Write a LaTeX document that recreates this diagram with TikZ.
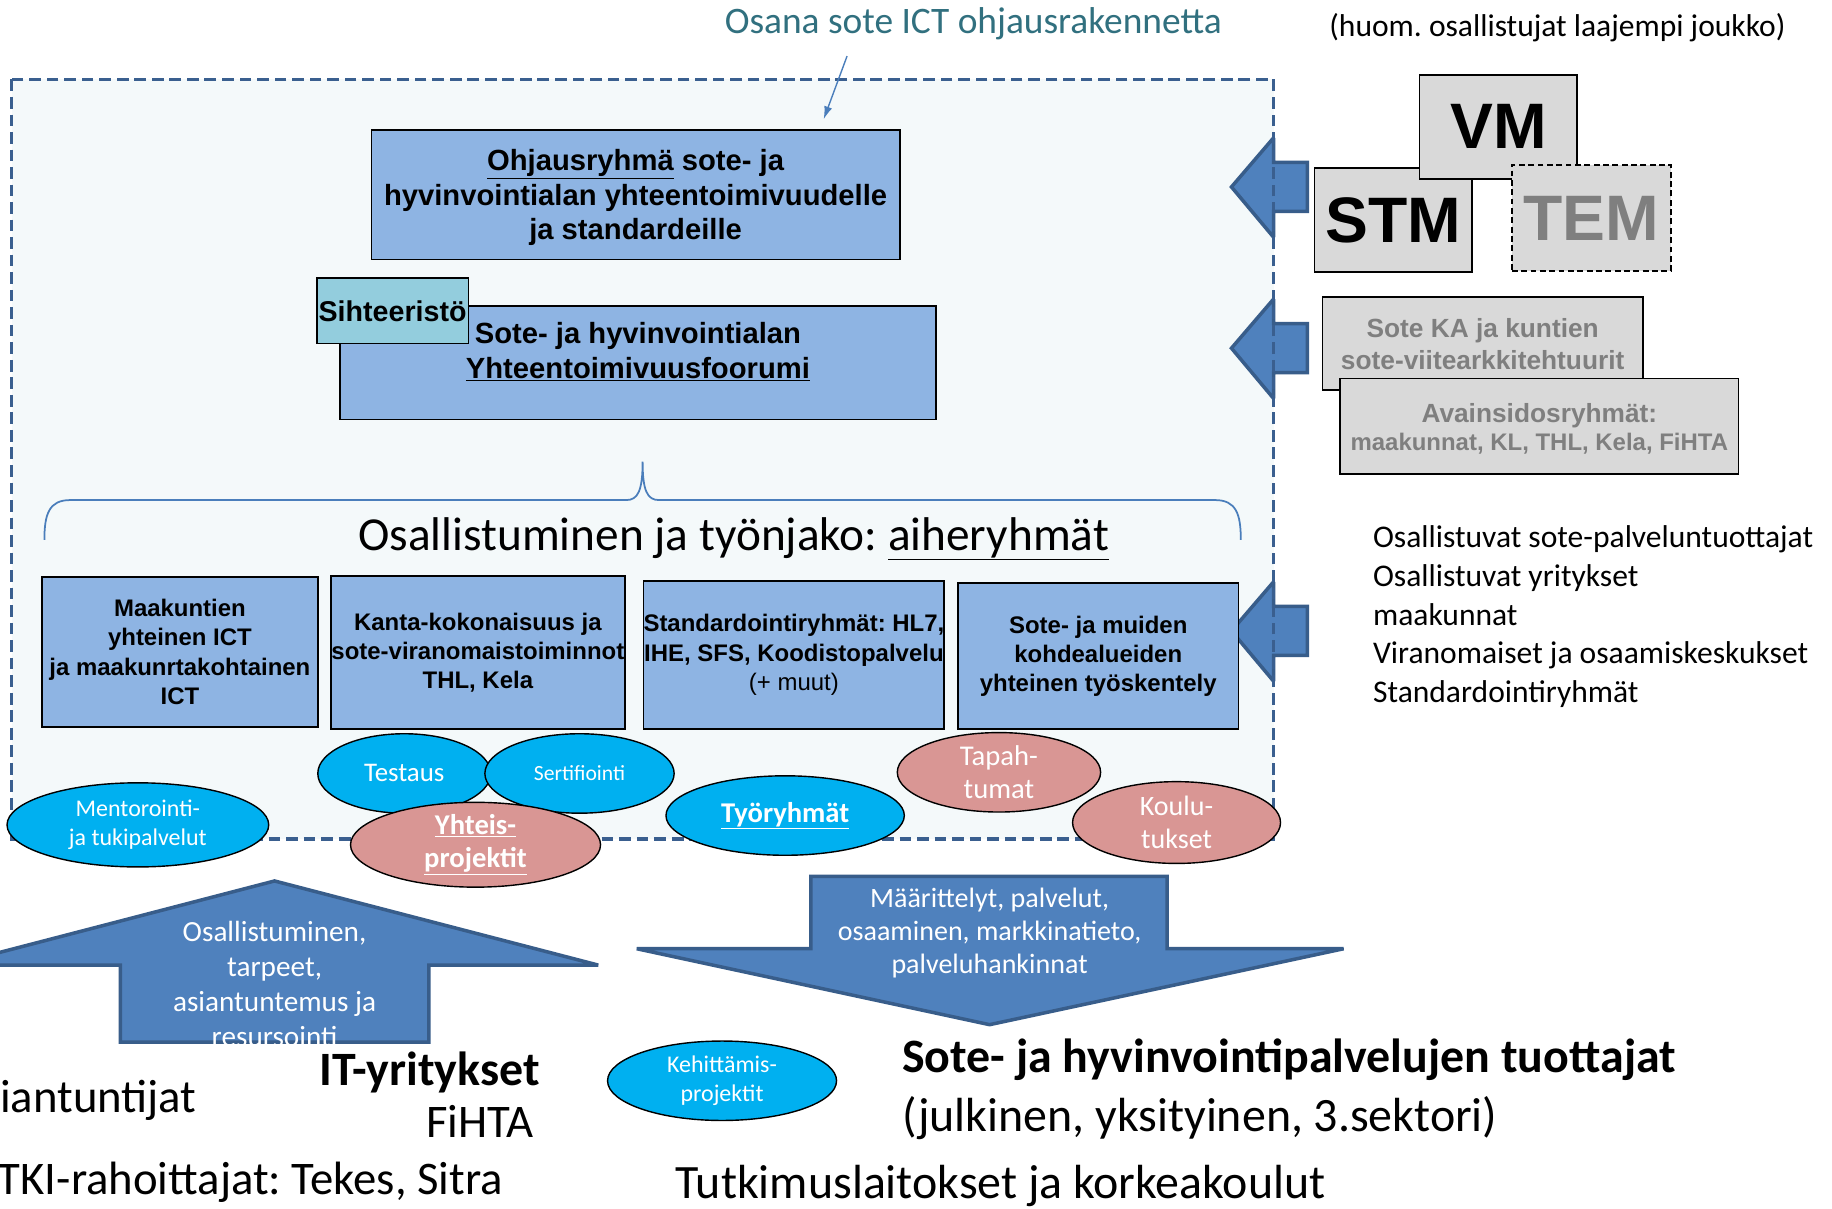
\documentclass[tikz,border=0pt]{standalone}
\usepackage{fontspec}
\setmainfont{Carlito}
\newfontfamily\arialf{Liberation Sans}
\usetikzlibrary{shapes.geometric,arrows.meta}
\definecolor{boxblue}{RGB}{142,180,227}
\definecolor{sihblue}{RGB}{147,205,221}
\definecolor{arrowblue}{RGB}{79,129,189}
\definecolor{arrowborder}{RGB}{56,93,138}
\definecolor{framecol}{RGB}{58,95,143}
\definecolor{framefill}{RGB}{244,249,250}
\definecolor{ellblue}{RGB}{0,176,240}
\definecolor{ellpink}{RGB}{217,150,148}
\definecolor{greyfill}{RGB}{217,217,217}
\definecolor{greytext}{RGB}{127,127,127}
\definecolor{tealtext}{RGB}{49,112,127}
\definecolor{bracecol}{RGB}{74,126,187}
\newcommand{\fsz}[2]{\fontsize{#1}{#2}\selectfont}
\frenchspacing
\begin{document}
\begin{tikzpicture}[x=1pt,y=-1pt,
  bluebox/.style={draw=black, line width=1.5pt, fill=boxblue, inner sep=0pt, align=center, font=\arialf\bfseries\fsz{20.5}{25}},
  greybox/.style={draw=black, line width=1.5pt, fill=greyfill, inner sep=0pt, align=center},
  ell/.style={ellipse, draw=black, line width=1.2pt, inner sep=0pt, text=white, align=center},
  blueell/.style={ell, fill=ellblue},
  pinkell/.style={ell, fill=ellpink},
  barrow/.style={fill=arrowblue, draw=arrowborder, line width=3pt, line join=miter, miter limit=2},
  txt/.style={inner sep=0pt, align=left}]
\useasboundingbox (0,0) rectangle (1568,1034);
\fill[white] (0,0) rectangle (1568,1034);

% top texts
\node[txt, font=\fsz{32}{38}, text=tealtext] (note) at (833,20) {Osana sote ICT ohjausrakennetta};
\node[txt, font=\fsz{27}{32}] (huom) at (1333,24) {(huom. osallistujat laajempi joukko)};

% frame fill
\fill[framefill] (10,68) rectangle (1090,718);

% right block arrows
\draw[barrow] (1054,160) -- (1090,118) -- (1090,139) -- (1119,139) -- (1119,181) -- (1090,181) -- (1090,203) -- cycle;
\draw[barrow] (1054,298) -- (1090,256) -- (1090,277) -- (1119,277) -- (1119,319) -- (1090,319) -- (1090,341) -- cycle;
\draw[barrow] (1054,540) -- (1090,498) -- (1090,519) -- (1119,519) -- (1119,561) -- (1090,561) -- (1090,583) -- cycle;

% frame border
\draw[framecol, line width=3pt, dash pattern=on 10pt off 5pt] (10,68) rectangle (1090,718);

% arrow from note
\coordinate (na) at (725,48);
\coordinate (nb) at (705,102);
\draw[bracecol, line width=1.2pt, -{Latex[length=11pt,width=7pt]}] (na) -- (nb);

% steering group
\node[bluebox, minimum width=452pt, minimum height=111pt] (ohj) at (544,166.5) {};
\node[txt, align=center, font=\arialf\bfseries\fsz{25}{29.5}] (ohjt) at (544,169)
  {\underline{Ohjausryhmä} sote- ja\\hyvinvointialan yhteentoimivuudelle\\ja standardeille};

% forum
\node[bluebox, minimum width=510pt, minimum height=97pt] (forum) at (546,310.5) {};
\node[txt, align=center, font=\arialf\bfseries\fsz{25}{30}] (forumt) at (546,301)
  {Sote- ja hyvinvointialan\\\underline{Yhteentoimivuusfoorumi}};
\node[draw=black, line width=1.5pt, fill=sihblue, inner sep=0pt, minimum width=130pt, minimum height=56pt,
  font=\arialf\bfseries\fsz{24.5}{28}] (sih) at (336,266) {Sihteeristö};

% brace
\draw[bracecol, line width=1.5pt] (38,462) .. controls (38,440) and (42,428) .. (60,428) -- (536,428)
  .. controls (546,428) and (550,420) .. (550,395) .. controls (550,420) and (554,428) .. (564,428)
  -- (1040,428) .. controls (1058,428) and (1062,440) .. (1062,462);

\node[txt, font=\fsz{40.5}{46}] (osall) at (628,461) {Osallistuminen ja työnjako: \underline{aiheryhmät}};

% topic group boxes
\node[bluebox, minimum width=236pt, minimum height=128pt] (b1) at (154,558)
  {Maakuntien\\yhteinen ICT\\ja maakunrtakohtainen\\ICT};
\node[bluebox, minimum width=252pt, minimum height=131pt] (b2) at (409,558.5)
  {Kanta-kokonaisuus ja\\sote-viranomaistoiminnot\\THL, Kela};
\node[bluebox, minimum width=257pt, minimum height=127pt] (b3) at (679.5,560.5)
  {Standardointiryhmät: HL7,\\IHE, SFS, Koodistopalvelu\\{\mdseries (+ muut)}};
\node[bluebox, minimum width=240pt, minimum height=125pt] (b4) at (940,561.5)
  {Sote- ja muiden\\kohdealueiden\\yhteinen työskentely};

% ellipses
\node[blueell, minimum width=148pt, minimum height=68pt, font=\fsz{23}{28}] (test) at (346,662) {Testaus};
\node[blueell, minimum width=162pt, minimum height=68pt, font=\fsz{18.5}{22}] (sert) at (496,662) {Sertifiointi};
\node[blueell, minimum width=224pt, minimum height=72pt, font=\fsz{20.5}{25}] (ment) at (118,706) {Mentorointi-\\ja tukipalvelut};
\node[pinkell, minimum width=214pt, minimum height=68pt, font=\bfseries\fsz{24.5}{28}] (yht) at (407,723) {\underline{Yhteis-}\\\underline{projektit}};
\node[blueell, minimum width=204pt, minimum height=68pt, font=\bfseries\fsz{24.5}{28}] (tyo) at (672,698) {\underline{Työryhmät}};
\node[pinkell, minimum width=174pt, minimum height=68pt, font=\fsz{24.5}{28}] (tap) at (855,661) {Tapah-\\tumat};
\node[pinkell, minimum width=178pt, minimum height=70pt, font=\fsz{24}{28}] (kou) at (1007,704) {Koulu-\\tukset};
\node[blueell, minimum width=196pt, minimum height=68pt, font=\fsz{20.5}{25}] (keh) at (618,925) {Kehittämis-\\projektit};

% grey boxes right
\node[greybox, minimum width=135pt, minimum height=89pt, font=\arialf\bfseries\fsz{55}{60}] (stm) at (1192.5,188.5) {STM};
\node[greybox, minimum width=135pt, minimum height=89pt, font=\arialf\bfseries\fsz{55}{60}] (vm) at (1282.5,108.5) {VM};
\node[greybox, dashed, dash pattern=on 5pt off 3pt, minimum width=136pt, minimum height=91pt, text=greytext,
  font=\arialf\bfseries\fsz{55}{60}] (tem) at (1362,186.5) {TEM};
\node[greybox, minimum width=274pt, minimum height=80pt] (ka) at (1269,294) {};
\node[txt, align=center, text=greytext, font=\arialf\bfseries\fsz{22.5}{27}] (kat) at (1269,294.5) {Sote KA ja kuntien\\sote-viitearkkitehtuurit};
\node[greybox, minimum width=341pt, minimum height=82pt] (avain) at (1317.5,365) {};
\node[txt, align=center, text=greytext] (avaint) at (1317.5,367)
  {{\arialf\bfseries\fsz{22.5}{26}Avainsidosryhmät:}\\[3pt]{\arialf\bfseries\fsz{20.5}{26}maakunnat, KL, THL, Kela, FiHTA}};

% right list
\node[txt, anchor=base west, font=\fsz{27}{33}] (list) at (1175,601)
  {Osallistuvat sote-palveluntuottajat\\Osallistuvat yritykset\\maakunnat\\Viranomaiset ja osaamiskeskukset\\Standardointiryhmät};

% bottom block arrows
\draw[barrow] (235,754) -- (512,826) -- (367,826) -- (367,892) -- (103,892) -- (103,826) -- (-42,826) -- cycle;
\node[txt, align=center, text=white, font=\fsz{25}{30}] (upt) at (235,842) {Osallistuminen,\\tarpeet,\\asiantuntemus ja\\resursointi};
\draw[barrow] (694,750) -- (999,750) -- (999,812) -- (1150,812) -- (847,877) -- (545,812) -- (694,812) -- cycle;
\node[txt, align=center, text=white, font=\fsz{24}{28.5}] (downt) at (847,798.5) {Määrittelyt, palvelut,\\osaaminen, markkinatieto,\\palveluhankinnat};

% bottom texts
\node[txt, anchor=west, font=\fsz{40}{46}] (asi) at (0,942) {iantuntijat};
\node[txt, anchor=east, font=\bfseries\fsz{41}{46}] (it) at (462,918) {IT-yritykset};
\node[txt, anchor=east, font=\fsz{40}{46}] (fihta) at (457,960) {FiHTA};
\node[txt, anchor=west, font=\bfseries\fsz{41}{46}] (sote) at (772,907) {Sote- ja hyvinvointipalvelujen tuottajat};
\node[txt, anchor=west, font=\fsz{41}{46}] (julk) at (772,957) {(julkinen, yksityinen, 3.sektori)};
\node[txt, anchor=west, font=\fsz{40}{46}] (tki) at (-2,1012) {TKI-rahoittajat: Tekes, Sitra};
\node[txt, anchor=west, font=\fsz{41}{46}] (tutk) at (578,1015) {Tutkimuslaitokset ja korkeakoulut};
\end{tikzpicture}
\end{document}
